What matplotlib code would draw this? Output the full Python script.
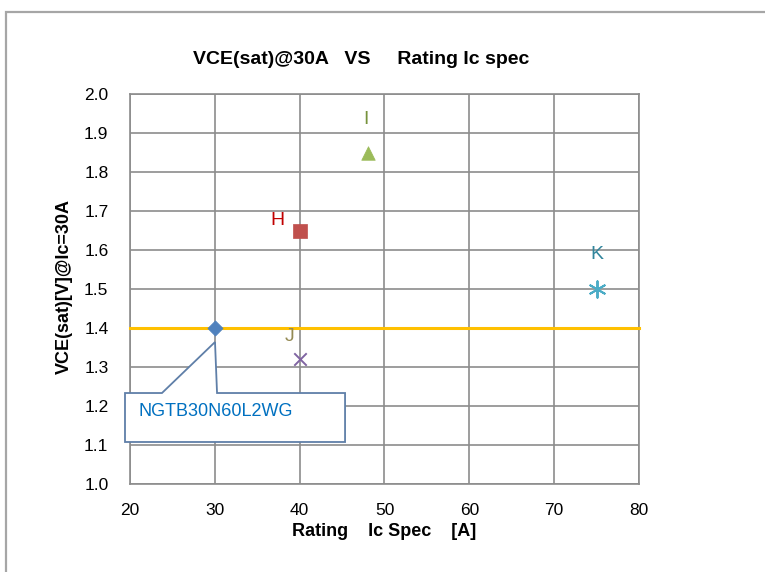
import matplotlib
matplotlib.use("Agg")
import matplotlib.pyplot as plt
from matplotlib.patches import Polygon, Rectangle

plt.rcParams['font.family'] = ['Liberation Sans', 'DejaVu Sans']

# Data
names = ["NGTB30N60L2WG", "H", "I", "J", "K"]
ic_spec = [30, 40, 48, 40, 75]
vce_sat = [1.40, 1.65, 1.85, 1.32, 1.50]
markers = ["D", "s", "^", "x", (6, 2, 0)]
colors = ["#4F81BD", "#C0504D", "#9BBB59", "#8064A2", "#4BACC6"]
label_colors = [None, "#C00000", "#77933C", "#948A54", "#31859C"]
label_offsets = [None, (-16, 7), (-1, 23.5), (-7, 16), (0, 25)]  # points offsets
ref_line = 1.40

x_ticks = [20, 30, 40, 50, 60, 70, 80]
y_ticks = [1.0, 1.1, 1.2, 1.3, 1.4, 1.5, 1.6, 1.7, 1.8, 1.9, 2.0]

fig = plt.figure(figsize=(7.65, 5.72), dpi=100)
ax = fig.add_axes([130/765, 1-484/572, 509/765, 390/572])

# outer frame
fig.patches.append(Rectangle((6/765, -0.01), 1.0, 1-12/572+0.01, transform=fig.transFigure,
                             fill=False, edgecolor="#A6A6A6", linewidth=1.6))

ax.set_xlim(20, 80)
ax.set_ylim(1.0, 2.0)
ax.set_xticks(x_ticks)
ax.set_yticks(y_ticks)
ax.set_yticklabels([f"{v:.1f}" for v in y_ticks])
ax.grid(True, color="#8C8C8C", linewidth=1.2)
ax.set_axisbelow(True)
for s in ax.spines.values():
    s.set_color("#8C8C8C")
    s.set_linewidth(1.2)
ax.tick_params(axis="both", length=0, labelsize=12.5, colors="#000000")
ax.tick_params(axis="y", pad=15.5)
ax.tick_params(axis="x", pad=13.5)

ax.axhline(ref_line, color="#FFC000", linewidth=2.2, zorder=3, clip_on=False)

sizes = [60, 95, 95, 80, 140]
for i in range(len(names)):
    line_marker = markers[i] == "x" or isinstance(markers[i], tuple)
    ax.scatter([ic_spec[i]], [vce_sat[i]], marker=markers[i], s=sizes[i],
               color=colors[i], zorder=5,
               linewidths=1.4 if line_marker else 0.5)
    if label_colors[i]:
        ax.annotate(names[i], (ic_spec[i], vce_sat[i]), xytext=label_offsets[i],
                    textcoords="offset points", color=label_colors[i], fontsize=14,
                    ha="center", va="center")

# callout for first point
x0, y0 = ic_spec[0], vce_sat[0]
bx0, bx1 = 19.41, 45.35
by0, by1 = 1.1077, 1.2333
poly = Polygon([(bx0, by1), (23.77, by1), (x0 + 0.02, y0 - 0.036), (x0 + 0.26, by1),
                (bx1, by1), (bx1, by0), (bx0, by0)], closed=True,
               facecolor="white", edgecolor="#5F7FA8", linewidth=1.3, zorder=7, clip_on=False)
ax.add_patch(poly)
ax.text(bx0 + 1.65, (by0 + by1) / 2 + 0.016, names[0], color="#0070C0", fontsize=13,
        ha="left", va="center", zorder=8)

fig.text(361/765, 1-59/572, "VCE(sat)@30A   VS     Rating Ic spec", ha="center", va="center",
         fontsize=14, fontweight="bold")
fig.text(384/765, 1-532/572, "Rating    Ic Spec    [A]", ha="center", va="center",
         fontsize=13, fontweight="bold")
fig.text(64/765, 1-287/572, "VCE(sat)[V]@Ic=30A", ha="center", va="center",
         fontsize=13, fontweight="bold", rotation=90)

fig.savefig("out.png", dpi=100)
